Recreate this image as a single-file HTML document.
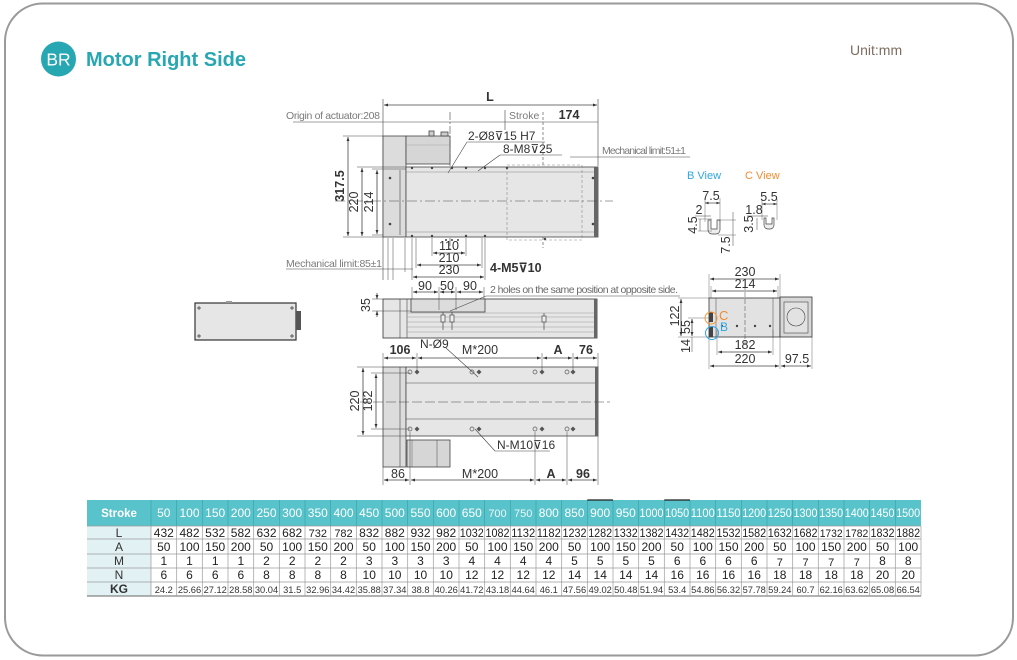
<!DOCTYPE html>
<html><head><meta charset="utf-8"><style>
html,body{margin:0;padding:0;background:#fff;}
svg{display:block;font-family:"Liberation Sans",sans-serif;}
</style></head><body>
<svg width="1017" height="660" viewBox="0 0 1017 660" xmlns="http://www.w3.org/2000/svg">
<defs>
<marker id="a" viewBox="0 0 6 6" refX="6" refY="3" markerWidth="5" markerHeight="5" orient="auto-start-reverse"><path d="M0,0.8 L6,3 L0,5.2z" fill="#333"/></marker>
</defs>
<rect x="5" y="3.5" width="1008" height="652" rx="38" ry="38" fill="#fff" stroke="#9a9a9a" stroke-width="2"/>
<circle cx="58.5" cy="59" r="17.5" fill="#27a7b2"/>
<text x="58.5" y="65.5" font-size="17.5" fill="#fff" text-anchor="middle">BR</text>
<text x="86" y="66" font-size="20" font-weight="bold" fill="#27a7b2">Motor Right Side</text>
<text x="850" y="55" font-size="14" fill="#7d6e60">Unit:mm</text>

<g stroke="#444" stroke-width="0.8" fill="none">
<line x1="383" y1="99" x2="383" y2="280" stroke-width="0.6"/>
<line x1="598" y1="99" x2="598" y2="166" stroke-width="0.6"/>
<line x1="388" y1="238" x2="388" y2="280" stroke-width="0.5"/>
<line x1="393" y1="238" x2="393" y2="280" stroke-width="0.5"/>
<line x1="405" y1="238" x2="405" y2="272" stroke-width="0.5"/>
<line x1="412" y1="238" x2="412" y2="280" stroke-width="0.5"/>
<line x1="416" y1="238" x2="416" y2="268" stroke-width="0.5"/>
<line x1="432" y1="238" x2="432" y2="256" stroke-width="0.5"/>
<line x1="466" y1="238" x2="466" y2="256" stroke-width="0.5"/>
<line x1="482" y1="238" x2="482" y2="268" stroke-width="0.5"/>
<line x1="485" y1="238" x2="485" y2="280" stroke-width="0.5"/>
<line x1="384" y1="105" x2="597" y2="105" marker-start="url(#a)" marker-end="url(#a)"/>
<line x1="293" y1="122" x2="598" y2="122" stroke-width="0.6"/>
<line x1="450" y1="112" x2="450" y2="252" stroke-dasharray="8,2,2,2" stroke-width="0.6"/>
<line x1="543" y1="112" x2="543" y2="248" stroke-dasharray="3,2" stroke-width="0.6"/>
<line x1="505" y1="110" x2="505" y2="130" stroke-width="0.6"/>
<rect x="383" y="136" width="23" height="101" fill="#dcdcdc" stroke="#444"/>
<rect x="406" y="136" width="44" height="28" fill="#d6d6d6" stroke="#444"/>
<rect x="429" y="131" width="5" height="5" fill="#ccc"/>
<rect x="441" y="132" width="7" height="4" fill="#ccc"/>
<line x1="406" y1="145" x2="450" y2="145" stroke="#999" stroke-width="0.4"/>
<rect x="406" y="167" width="192" height="70" fill="#e6e6e6" stroke="#444"/>
<line x1="400" y1="170" x2="400" y2="235" stroke-width="0.6"/>
<line x1="406" y1="172" x2="594" y2="172" stroke="#888" stroke-width="0.5"/>
<line x1="406" y1="232" x2="594" y2="232" stroke="#888" stroke-width="0.5"/>
<rect x="594" y="167" width="4" height="70" fill="#666" stroke="none"/>
<rect x="507" y="165" width="75" height="75" stroke="#888" stroke-dasharray="3,2" stroke-width="0.6"/>
<line x1="335" y1="201" x2="613" y2="201" stroke-dasharray="10,3,2,3" stroke-width="0.6"/>
<line x1="343" y1="136" x2="383" y2="136" stroke-width="0.5"/>
<line x1="343" y1="237" x2="383" y2="237" stroke-width="0.5"/>
<line x1="357" y1="167" x2="406" y2="167" stroke-width="0.5"/>
<line x1="372" y1="169" x2="406" y2="169" stroke-width="0.5"/>
<line x1="372" y1="235" x2="383" y2="235" stroke-width="0.5"/>
<line x1="348" y1="137" x2="348" y2="236" marker-start="url(#a)" marker-end="url(#a)"/>
<line x1="362" y1="168" x2="362" y2="236" marker-start="url(#a)" marker-end="url(#a)"/>
<line x1="377" y1="170" x2="377" y2="234" marker-start="url(#a)" marker-end="url(#a)"/>
<line x1="433" y1="253" x2="465" y2="253" marker-start="url(#a)" marker-end="url(#a)"/>
<line x1="417" y1="265" x2="481" y2="265" marker-start="url(#a)" marker-end="url(#a)"/>
<line x1="413" y1="277" x2="484" y2="277" marker-start="url(#a)" marker-end="url(#a)"/>
<line x1="286" y1="269" x2="413" y2="269" stroke-width="0.6"/>
<line x1="467" y1="142" x2="545" y2="142" stroke-width="0.6"/>
<line x1="467" y1="142" x2="448" y2="173" stroke-width="0.6"/>
<line x1="500" y1="155" x2="562" y2="155" stroke-width="0.6"/>
<line x1="500" y1="155" x2="478" y2="171" stroke-width="0.6"/>
<line x1="570" y1="157" x2="690" y2="157" stroke-width="0.6"/>
</g>
<g fill="#444">
<circle cx="390" cy="178" r="1.3"/><circle cx="390" cy="224" r="1.3"/>
<circle cx="593" cy="178" r="1.3"/><circle cx="593" cy="224" r="1.3"/>
<circle cx="412" cy="168" r="1.2"/><circle cx="432" cy="168" r="1.2"/><circle cx="452" cy="168" r="1.2"/><circle cx="466" cy="168" r="1.2"/><circle cx="485" cy="168" r="1.2"/><circle cx="507" cy="168" r="1.2"/>
<circle cx="412" cy="236" r="1.2"/><circle cx="432" cy="236" r="1.2"/><circle cx="446" cy="240" r="1"/><circle cx="452" cy="240" r="1"/><circle cx="458" cy="240" r="1"/><circle cx="466" cy="236" r="1.2"/><circle cx="485" cy="236" r="1.2"/><circle cx="545" cy="239" r="1.2"/>
</g>
<g font-size="12.5" fill="#333" text-anchor="middle">
<text x="490" y="101" font-weight="bold">L</text>
<text x="569" y="119" font-weight="bold">174</text>
<text x="449" y="250">110</text>
<text x="449" y="262">210</text>
<text x="449" y="274">230</text>
<text transform="translate(344,186) rotate(-90)" font-weight="bold">317.5</text>
<text transform="translate(358,202) rotate(-90)">220</text>
<text transform="translate(373,202) rotate(-90)">214</text>
</g>
<g font-size="10.5" fill="#7a7a7a">
<text x="286" y="119" textLength="94">Origin of actuator:208</text>
<text x="509" y="119">Stroke</text>
<text x="286" y="267" textLength="96">Mechanical limit:85±1</text>
<text x="602" y="154" textLength="84">Mechanical limit:51±1</text>
</g>
<g font-size="12" fill="#333">
<text x="468" y="140">2-Ø8⊽15 H7</text>
<text x="503" y="153">8-M8⊽25</text>
<text x="490" y="272" font-size="12.5" font-weight="bold">4-M5⊽10</text>
</g>

<g stroke="#333" fill="none">
<rect x="195" y="303" width="101" height="37" fill="#e6e6e6" stroke-width="1.2"/>
<rect x="296" y="311" width="5" height="19" fill="#555" stroke="none"/>
<rect x="226" y="301" width="6" height="2" fill="#999" stroke="none"/>
<g stroke-width="0.7"><path d="M197,308h4M199,306v4M290,308h4M292,306v4M197,336h4M199,334v4M290,336h4M292,334v4"/></g>
</g>

<g stroke="#444" stroke-width="0.8" fill="none">
<rect x="383" y="299" width="214" height="39" fill="#e6e6e6" stroke="#333"/>
<line x1="400" y1="299" x2="400" y2="338" stroke-width="0.6"/>
<line x1="407" y1="299" x2="407" y2="338" stroke-width="0.6"/>
<rect x="411" y="299" width="74" height="13" fill="#dcdcdc"/>
<g stroke="#999" stroke-width="0.5">
<line x1="407" y1="313" x2="594" y2="313"/><line x1="407" y1="317" x2="594" y2="317"/>
<line x1="407" y1="322" x2="594" y2="322"/><line x1="407" y1="327" x2="594" y2="327"/>
<line x1="407" y1="332" x2="594" y2="332"/></g>
<rect x="594" y="299" width="3" height="39" fill="#666" stroke="none"/>
<g stroke-width="0.7"><line x1="443" y1="312" x2="443" y2="330"/><line x1="452" y1="312" x2="452" y2="330"/><line x1="544" y1="313" x2="544" y2="330"/>
<rect x="441" y="315" width="4" height="7" fill="#eee"/><rect x="450" y="315" width="4" height="7" fill="#eee"/><rect x="542" y="316" width="4" height="6" fill="#eee"/></g>
<line x1="372" y1="299" x2="383" y2="299" stroke-width="0.5"/>
<line x1="372" y1="311" x2="411" y2="311" stroke-width="0.5"/>
<line x1="377" y1="293" x2="377" y2="299" marker-end="url(#a)"/>
<line x1="377" y1="317" x2="377" y2="311" marker-end="url(#a)"/>
<line x1="412" y1="287" x2="412" y2="299" stroke-width="0.5"/><line x1="439" y1="287" x2="439" y2="310" stroke-width="0.5"/>
<line x1="456" y1="287" x2="456" y2="310" stroke-width="0.5"/><line x1="484" y1="287" x2="484" y2="299" stroke-width="0.5"/>
<line x1="413" y1="292" x2="438" y2="292" marker-start="url(#a)" marker-end="url(#a)"/>
<line x1="440" y1="292" x2="455" y2="292" marker-start="url(#a)" marker-end="url(#a)"/>
<line x1="457" y1="292" x2="483" y2="292" marker-start="url(#a)" marker-end="url(#a)"/>
<line x1="486" y1="296" x2="680" y2="296" stroke-width="0.6"/>
<line x1="486" y1="296" x2="450" y2="311" stroke-width="0.6"/>
</g>
<g font-size="12.5" fill="#333" text-anchor="middle">
<text x="425" y="290">90</text><text x="447" y="290">50</text><text x="470" y="290">90</text>
<text transform="translate(370,305) rotate(-90)">35</text>
</g>
<text x="490" y="293" font-size="10.5" fill="#6a6a6a" textLength="188">2 holes on the same position at opposite side.</text>

<g stroke="#444" stroke-width="0.8" fill="none">
<rect x="383" y="367" width="23" height="100" fill="#dcdcdc"/>
<line x1="400" y1="367" x2="400" y2="467" stroke-width="0.6"/>
<rect x="406" y="367" width="192" height="69" fill="#e6e6e6"/>
<rect x="595" y="367" width="3" height="69" fill="#666" stroke="none"/>
<line x1="406" y1="383" x2="595" y2="383" stroke-width="0.6"/>
<line x1="406" y1="419" x2="595" y2="419" stroke-width="0.6"/>
<rect x="407" y="440" width="43" height="27" fill="#d6d6d6"/>
<line x1="437" y1="440" x2="437" y2="467" stroke-width="0.5"/>
<line x1="412" y1="440" x2="412" y2="467" stroke-width="0.4"/>
<line x1="360" y1="402" x2="610" y2="402" stroke-dasharray="10,3" stroke-width="0.6"/>
<line x1="357" y1="367" x2="383" y2="367" stroke-width="0.5"/><line x1="357" y1="436" x2="406" y2="436" stroke-width="0.5"/>
<line x1="371" y1="373" x2="410" y2="373" stroke-width="0.5"/><line x1="371" y1="429" x2="410" y2="429" stroke-width="0.5"/>
<line x1="363" y1="368" x2="363" y2="435" marker-start="url(#a)" marker-end="url(#a)"/>
<line x1="376" y1="374" x2="376" y2="428" marker-start="url(#a)" marker-end="url(#a)"/>
<line x1="383" y1="353" x2="383" y2="367" stroke-width="0.5"/><line x1="417" y1="353" x2="417" y2="372" stroke-width="0.5"/>
<line x1="542" y1="353" x2="542" y2="372" stroke-width="0.5"/><line x1="573" y1="353" x2="573" y2="372" stroke-width="0.5"/>
<line x1="598" y1="353" x2="598" y2="367" stroke-width="0.5"/>
<line x1="384" y1="358" x2="416" y2="358" marker-start="url(#a)" marker-end="url(#a)"/>
<line x1="418" y1="358" x2="541" y2="358" marker-start="url(#a)" marker-end="url(#a)"/>
<line x1="543" y1="358" x2="572" y2="358" marker-start="url(#a)" marker-end="url(#a)"/>
<line x1="574" y1="358" x2="597" y2="358" marker-start="url(#a)" marker-end="url(#a)"/>
<line x1="383" y1="467" x2="383" y2="485" stroke-width="0.5"/><line x1="410" y1="432" x2="410" y2="485" stroke-width="0.5"/>
<line x1="535" y1="432" x2="535" y2="485" stroke-width="0.5"/><line x1="567" y1="432" x2="567" y2="485" stroke-width="0.5"/>
<line x1="598" y1="436" x2="598" y2="485" stroke-width="0.5"/>
<line x1="384" y1="480" x2="409" y2="480" marker-start="url(#a)" marker-end="url(#a)"/>
<line x1="411" y1="480" x2="534" y2="480" marker-start="url(#a)" marker-end="url(#a)"/>
<line x1="536" y1="480" x2="566" y2="480" marker-start="url(#a)" marker-end="url(#a)"/>
<line x1="568" y1="480" x2="597" y2="480" marker-start="url(#a)" marker-end="url(#a)"/>
<line x1="446" y1="348" x2="478" y2="377" stroke-width="0.6"/>
<line x1="495" y1="451" x2="550" y2="451" stroke-width="0.6"/>
<line x1="495" y1="451" x2="475" y2="429" stroke-width="0.6"/>
</g>
<g fill="none" stroke="#555" stroke-width="0.7">
<circle cx="410" cy="372" r="2"/><circle cx="472" cy="372" r="2"/><circle cx="535" cy="372" r="2"/><circle cx="567" cy="372" r="2"/>
<circle cx="410" cy="429" r="2"/><circle cx="472" cy="429" r="2"/><circle cx="535" cy="429" r="2"/><circle cx="567" cy="429" r="2"/>
</g>
<g fill="#555">
<path d="M417,369.5l2.5,2.5l-2.5,2.5l-2.5,-2.5z"/><path d="M479,369.5l2.5,2.5l-2.5,2.5l-2.5,-2.5z"/><path d="M542,369.5l2.5,2.5l-2.5,2.5l-2.5,-2.5z"/><path d="M573,369.5l2.5,2.5l-2.5,2.5l-2.5,-2.5z"/>
<path d="M417,426.5l2.5,2.5l-2.5,2.5l-2.5,-2.5z"/><path d="M479,426.5l2.5,2.5l-2.5,2.5l-2.5,-2.5z"/><path d="M542,426.5l2.5,2.5l-2.5,2.5l-2.5,-2.5z"/><path d="M573,426.5l2.5,2.5l-2.5,2.5l-2.5,-2.5z"/>
</g>
<g font-size="12.5" fill="#333" text-anchor="middle">
<text x="400" y="354" font-weight="bold">106</text>
<text x="480" y="354">M*200</text>
<text x="558" y="354" font-weight="bold">A</text>
<text x="586" y="354" font-weight="bold">76</text>
<text x="398" y="478">86</text>
<text x="480" y="478">M*200</text>
<text x="551" y="478" font-weight="bold">A</text>
<text x="583" y="478" font-weight="bold">96</text>
<text transform="translate(359,401) rotate(-90)">220</text>
<text transform="translate(372,401) rotate(-90)">182</text>
</g>
<text x="420" y="348" font-size="12" fill="#333">N-Ø9</text>
<text x="497" y="449" font-size="12" fill="#333">N-M10⊽16</text>

<text x="687" y="179" font-size="11" fill="#2ea7e0">B View</text>
<text x="745" y="179" font-size="11" fill="#f08d33">C View</text>
<g stroke="#444" stroke-width="0.7" fill="none">
<path d="M708,220 v10 a4,4 0 0 0 4,4 h4 a4,4 0 0 0 4,-4 v-10 h-3 v9 h-6 v-9z" fill="#eee"/>
<line x1="705" y1="203" x2="720" y2="203" marker-start="url(#a)" marker-end="url(#a)"/>
<line x1="705" y1="198" x2="705" y2="222" stroke-width="0.4"/><line x1="720" y1="198" x2="720" y2="222" stroke-width="0.4"/>
<line x1="695" y1="216" x2="711" y2="216" stroke-width="0.5"/>
<line x1="700" y1="219" x2="700" y2="231" stroke-width="0.5"/>
<line x1="698" y1="219" x2="712" y2="219" stroke-width="0.4"/><line x1="698" y1="231" x2="712" y2="231" stroke-width="0.4"/>
<line x1="733" y1="212" x2="733" y2="246" stroke-width="0.5"/>
<line x1="718" y1="220" x2="736" y2="220" stroke-width="0.4"/><line x1="718" y1="235" x2="736" y2="235" stroke-width="0.4"/>
<path d="M764,218 v7 a4,4 0 0 0 4,4 h2 a4,4 0 0 0 4,-4 v-7 h-2 v6 h-6 v-6z" fill="#eee"/>
<line x1="762" y1="204" x2="777" y2="204" marker-start="url(#a)" marker-end="url(#a)"/>
<line x1="762" y1="199" x2="762" y2="220" stroke-width="0.4"/><line x1="777" y1="199" x2="777" y2="220" stroke-width="0.4"/>
<line x1="747" y1="216" x2="768" y2="216" stroke-width="0.5"/>
<line x1="757" y1="218" x2="757" y2="230" stroke-width="0.5"/>
</g>
<g font-size="12.5" fill="#333" text-anchor="middle">
<text x="711" y="200">7.5</text>
<text x="699" y="214">2</text>
<text transform="translate(697,225) rotate(-90)">4.5</text>
<text transform="translate(730,245) rotate(-90)">7.5</text>
<text x="769" y="201">5.5</text>
<text x="754" y="214">1.8</text>
<text transform="translate(753,224) rotate(-90)">3.5</text>
</g>

<g stroke="#444" stroke-width="0.8" fill="none">
<rect x="709" y="298" width="71" height="39" fill="#e2e2e2" stroke="#333"/>
<line x1="716" y1="298" x2="716" y2="337" stroke-width="0.5"/>
<line x1="773" y1="298" x2="773" y2="337" stroke-width="0.5"/>
<line x1="745" y1="285" x2="745" y2="345" stroke-dasharray="5,2" stroke-width="0.5"/>
<rect x="780" y="297" width="32" height="40" fill="#d8d8d8" stroke="#333"/>
<rect x="784" y="302" width="24" height="31" fill="#e2e2e2" stroke-width="0.6"/>
<circle cx="796" cy="317" r="9" stroke-width="0.6"/>
<line x1="709" y1="274" x2="709" y2="298" stroke-width="0.4"/><line x1="780" y1="274" x2="780" y2="298" stroke-width="0.4"/>
<line x1="710" y1="279" x2="779" y2="279" marker-start="url(#a)" marker-end="url(#a)"/>
<line x1="712" y1="291" x2="777" y2="291" marker-start="url(#a)" marker-end="url(#a)"/>
<line x1="711" y1="286" x2="711" y2="298" stroke-width="0.4"/><line x1="778" y1="286" x2="778" y2="298" stroke-width="0.4"/>
<line x1="717" y1="330" x2="717" y2="355" stroke-width="0.4"/><line x1="773" y1="330" x2="773" y2="355" stroke-width="0.4"/>
<line x1="718" y1="352" x2="772" y2="352" marker-start="url(#a)" marker-end="url(#a)"/>
<line x1="709" y1="337" x2="709" y2="369" stroke-width="0.4"/><line x1="780" y1="337" x2="780" y2="369" stroke-width="0.4"/><line x1="812" y1="337" x2="812" y2="369" stroke-width="0.4"/>
<line x1="710" y1="366" x2="779" y2="366" marker-start="url(#a)" marker-end="url(#a)"/>
<line x1="781" y1="366" x2="811" y2="366" marker-start="url(#a)" marker-end="url(#a)"/>
<line x1="678" y1="298" x2="709" y2="298" stroke-width="0.4"/><line x1="678" y1="337" x2="709" y2="337" stroke-width="0.4"/>
<line x1="681" y1="299" x2="681" y2="336" marker-start="url(#a)" marker-end="url(#a)"/>
<line x1="688" y1="318" x2="709" y2="318" stroke-width="0.4"/>
<line x1="692" y1="319" x2="692" y2="336" marker-start="url(#a)" marker-end="url(#a)"/>
<line x1="692" y1="337" x2="692" y2="352" stroke-width="0.5"/>
</g>
<g fill="#444">
<circle cx="722" cy="326" r="1.2"/><circle cx="737" cy="326" r="1.2"/><circle cx="755" cy="326" r="1.2"/><circle cx="770" cy="326" r="1.2"/>
<rect x="709" y="312" width="4" height="10"/><rect x="709" y="327" width="4" height="10"/>
</g>
<circle cx="711" cy="318" r="6" fill="none" stroke="#f39a3b" stroke-width="1"/>
<circle cx="712" cy="333" r="6.5" fill="none" stroke="#2ea7e0" stroke-width="1"/>
<text x="719" y="320" font-size="13" fill="#f08d33">C</text>
<text x="720" y="331" font-size="12" fill="#2ea7e0">B</text>
<g font-size="12.5" fill="#333" text-anchor="middle">
<text x="745" y="276">230</text>
<text x="745" y="288">214</text>
<text x="745" y="349">182</text>
<text x="745" y="363">220</text>
<text x="797" y="363">97.5</text>
<text transform="translate(679,316) rotate(-90)">122</text>
<text transform="translate(690,327) rotate(-90)">55</text>
<text transform="translate(690,346) rotate(-90)">14</text>
</g>

<g>
<rect x="87" y="500" width="834" height="26" fill="#58c3ca"/>
<rect x="87" y="526" width="64" height="70" fill="#e2f1f3"/>
<g stroke="#3a9ea5" stroke-width="0.6">
<line x1="151" y1="500" x2="151" y2="526"/><line x1="176.7" y1="500" x2="176.7" y2="526"/><line x1="202.3" y1="500" x2="202.3" y2="526"/><line x1="228" y1="500" x2="228" y2="526"/><line x1="253.7" y1="500" x2="253.7" y2="526"/><line x1="279.3" y1="500" x2="279.3" y2="526"/><line x1="305" y1="500" x2="305" y2="526"/><line x1="330.7" y1="500" x2="330.7" y2="526"/><line x1="356.3" y1="500" x2="356.3" y2="526"/><line x1="382" y1="500" x2="382" y2="526"/><line x1="407.7" y1="500" x2="407.7" y2="526"/><line x1="433.3" y1="500" x2="433.3" y2="526"/><line x1="459" y1="500" x2="459" y2="526"/><line x1="484.7" y1="500" x2="484.7" y2="526"/><line x1="510.3" y1="500" x2="510.3" y2="526"/><line x1="536" y1="500" x2="536" y2="526"/><line x1="561.7" y1="500" x2="561.7" y2="526"/><line x1="587.3" y1="500" x2="587.3" y2="526"/><line x1="613" y1="500" x2="613" y2="526"/><line x1="638.7" y1="500" x2="638.7" y2="526"/><line x1="664.3" y1="500" x2="664.3" y2="526"/><line x1="690" y1="500" x2="690" y2="526"/><line x1="715.7" y1="500" x2="715.7" y2="526"/><line x1="741.3" y1="500" x2="741.3" y2="526"/><line x1="767" y1="500" x2="767" y2="526"/><line x1="792.7" y1="500" x2="792.7" y2="526"/><line x1="818.3" y1="500" x2="818.3" y2="526"/><line x1="844" y1="500" x2="844" y2="526"/><line x1="869.7" y1="500" x2="869.7" y2="526"/><line x1="895.3" y1="500" x2="895.3" y2="526"/>
</g>
<line x1="587.3" y1="500" x2="613" y2="500" stroke="#222" stroke-width="1.2"/>
<line x1="664.3" y1="500" x2="690" y2="500" stroke="#222" stroke-width="1.2"/>
<g stroke="#9a9a9a" stroke-width="0.7">
<line x1="87" y1="526" x2="921" y2="526"/><line x1="87" y1="539" x2="921" y2="539"/><line x1="87" y1="554" x2="921" y2="554"/><line x1="87" y1="568" x2="921" y2="568"/><line x1="87" y1="582" x2="921" y2="582"/><line x1="87" y1="596" x2="921" y2="596" stroke="#666" stroke-width="1"/>
<line x1="151" y1="526" x2="151" y2="596"/><line x1="176.7" y1="526" x2="176.7" y2="596"/><line x1="202.3" y1="526" x2="202.3" y2="596"/><line x1="228" y1="526" x2="228" y2="596"/><line x1="253.7" y1="526" x2="253.7" y2="596"/><line x1="279.3" y1="526" x2="279.3" y2="596"/><line x1="305" y1="526" x2="305" y2="596"/><line x1="330.7" y1="526" x2="330.7" y2="596"/><line x1="356.3" y1="526" x2="356.3" y2="596"/><line x1="382" y1="526" x2="382" y2="596"/><line x1="407.7" y1="526" x2="407.7" y2="596"/><line x1="433.3" y1="526" x2="433.3" y2="596"/><line x1="459" y1="526" x2="459" y2="596"/><line x1="484.7" y1="526" x2="484.7" y2="596"/><line x1="510.3" y1="526" x2="510.3" y2="596"/><line x1="536" y1="526" x2="536" y2="596"/><line x1="561.7" y1="526" x2="561.7" y2="596"/><line x1="587.3" y1="526" x2="587.3" y2="596"/><line x1="613" y1="526" x2="613" y2="596"/><line x1="638.7" y1="526" x2="638.7" y2="596"/><line x1="664.3" y1="526" x2="664.3" y2="596"/><line x1="690" y1="526" x2="690" y2="596"/><line x1="715.7" y1="526" x2="715.7" y2="596"/><line x1="741.3" y1="526" x2="741.3" y2="596"/><line x1="767" y1="526" x2="767" y2="596"/><line x1="792.7" y1="526" x2="792.7" y2="596"/><line x1="818.3" y1="526" x2="818.3" y2="596"/><line x1="844" y1="526" x2="844" y2="596"/><line x1="869.7" y1="526" x2="869.7" y2="596"/><line x1="895.3" y1="526" x2="895.3" y2="596"/><line x1="921" y1="526" x2="921" y2="596"/>
</g>
<g font-size="12" fill="#333" text-anchor="middle">
<text x="119" y="517" fill="#fff" font-weight="bold" font-size="11.5">Stroke</text>
<text x="119" y="537">L</text><text x="119" y="551">A</text><text x="119" y="565">M</text><text x="119" y="579">N</text><text x="119" y="593" font-weight="bold">KG</text>
</g>
<g font-size="12" fill="#fff" text-anchor="middle">
<text x="163.8" y="517">50</text><text x="189.5" y="517">100</text><text x="215.2" y="517">150</text><text x="240.8" y="517">200</text><text x="266.5" y="517">250</text><text x="292.2" y="517">300</text><text x="317.8" y="517">350</text><text x="343.5" y="517">400</text><text x="369.2" y="517">450</text><text x="394.8" y="517">500</text><text x="420.5" y="517">550</text><text x="446.2" y="517">600</text><text x="471.8" y="517">650</text><text x="497.5" y="517" fill="#eef8f9" font-size="11">700</text><text x="523.2" y="517" fill="#eef8f9" font-size="11">750</text><text x="548.8" y="517">800</text><text x="574.5" y="517">850</text><text x="600.2" y="517">900</text><text x="625.8" y="517">950</text>
<text x="651.5" y="517" textLength="24" lengthAdjust="spacingAndGlyphs">1000</text><text x="677.2" y="517" textLength="24" lengthAdjust="spacingAndGlyphs">1050</text><text x="702.8" y="517" textLength="24" lengthAdjust="spacingAndGlyphs">1100</text><text x="728.5" y="517" textLength="24" lengthAdjust="spacingAndGlyphs">1150</text><text x="754.2" y="517" textLength="24" lengthAdjust="spacingAndGlyphs">1200</text><text x="779.8" y="517" textLength="24" lengthAdjust="spacingAndGlyphs">1250</text><text x="805.5" y="517" textLength="24" lengthAdjust="spacingAndGlyphs">1300</text><text x="831.2" y="517" textLength="24" lengthAdjust="spacingAndGlyphs">1350</text><text x="856.8" y="517" textLength="24" lengthAdjust="spacingAndGlyphs">1400</text><text x="882.5" y="517" textLength="24" lengthAdjust="spacingAndGlyphs">1450</text><text x="908.2" y="517" textLength="24" lengthAdjust="spacingAndGlyphs">1500</text>
</g>
<g font-size="12" fill="#222" text-anchor="middle">
<text x="163.8" y="537">432</text><text x="189.5" y="537">482</text><text x="215.2" y="537">532</text><text x="240.8" y="537">582</text><text x="266.5" y="537">632</text><text x="292.2" y="537">682</text><text x="317.8" y="537" font-size="11">732</text><text x="343.5" y="537" font-size="11">782</text><text x="369.2" y="537">832</text><text x="394.8" y="537">882</text><text x="420.5" y="537">932</text><text x="446.2" y="537">982</text>
<text x="471.8" y="537" textLength="24" lengthAdjust="spacingAndGlyphs">1032</text><text x="497.5" y="537" textLength="24" lengthAdjust="spacingAndGlyphs">1082</text><text x="523.2" y="537" textLength="24" lengthAdjust="spacingAndGlyphs">1132</text><text x="548.8" y="537" textLength="24" lengthAdjust="spacingAndGlyphs">1182</text><text x="574.5" y="537" textLength="24" lengthAdjust="spacingAndGlyphs">1232</text><text x="600.2" y="537" textLength="24" lengthAdjust="spacingAndGlyphs">1282</text><text x="625.8" y="537" textLength="24" lengthAdjust="spacingAndGlyphs">1332</text><text x="651.5" y="537" textLength="24" lengthAdjust="spacingAndGlyphs">1382</text><text x="677.2" y="537" textLength="24" lengthAdjust="spacingAndGlyphs">1432</text><text x="702.8" y="537" textLength="24" lengthAdjust="spacingAndGlyphs">1482</text><text x="728.5" y="537" textLength="24" lengthAdjust="spacingAndGlyphs">1532</text><text x="754.2" y="537" textLength="24" lengthAdjust="spacingAndGlyphs">1582</text><text x="779.8" y="537" textLength="24" lengthAdjust="spacingAndGlyphs">1632</text><text x="805.5" y="537" textLength="24" lengthAdjust="spacingAndGlyphs">1682</text><text x="831.2" y="537" textLength="23" lengthAdjust="spacingAndGlyphs" font-size="11">1732</text><text x="856.8" y="537" textLength="23" lengthAdjust="spacingAndGlyphs" font-size="11">1782</text><text x="882.5" y="537" textLength="24" lengthAdjust="spacingAndGlyphs">1832</text><text x="908.2" y="537" textLength="24" lengthAdjust="spacingAndGlyphs">1882</text>
</g>
<g font-size="12" fill="#222" text-anchor="middle">
<text x="163.8" y="551">50</text><text x="189.5" y="551">100</text><text x="215.2" y="551">150</text><text x="240.8" y="551">200</text><text x="266.5" y="551">50</text><text x="292.2" y="551">100</text><text x="317.8" y="551">150</text><text x="343.5" y="551">200</text><text x="369.2" y="551">50</text><text x="394.8" y="551">100</text><text x="420.5" y="551">150</text><text x="446.2" y="551">200</text><text x="471.8" y="551">50</text><text x="497.5" y="551">100</text><text x="523.2" y="551">150</text><text x="548.8" y="551">200</text><text x="574.5" y="551">50</text><text x="600.2" y="551">100</text><text x="625.8" y="551">150</text><text x="651.5" y="551">200</text><text x="677.2" y="551">50</text><text x="702.8" y="551">100</text><text x="728.5" y="551">150</text><text x="754.2" y="551">200</text><text x="779.8" y="551">50</text><text x="805.5" y="551">100</text><text x="831.2" y="551">150</text><text x="856.8" y="551">200</text><text x="882.5" y="551">50</text><text x="908.2" y="551">100</text>
</g>
<g font-size="12" fill="#222" text-anchor="middle">
<text x="163.8" y="565">1</text><text x="189.5" y="565">1</text><text x="215.2" y="565">1</text><text x="240.8" y="565">1</text><text x="266.5" y="565">2</text><text x="292.2" y="565">2</text><text x="317.8" y="565">2</text><text x="343.5" y="565">2</text><text x="369.2" y="565">3</text><text x="394.8" y="565">3</text><text x="420.5" y="565">3</text><text x="446.2" y="565">3</text><text x="471.8" y="565">4</text><text x="497.5" y="565">4</text><text x="523.2" y="565">4</text><text x="548.8" y="565">4</text><text x="574.5" y="565">5</text><text x="600.2" y="565">5</text><text x="625.8" y="565">5</text><text x="651.5" y="565">5</text><text x="677.2" y="565">6</text><text x="702.8" y="565">6</text><text x="728.5" y="565">6</text><text x="754.2" y="565">6</text><text x="779.8" y="566" font-size="11">7</text><text x="805.5" y="566" font-size="11">7</text><text x="831.2" y="566" font-size="11">7</text><text x="856.8" y="566" font-size="11">7</text><text x="882.5" y="565">8</text><text x="908.2" y="565">8</text>
</g>
<g font-size="12" fill="#222" text-anchor="middle">
<text x="163.8" y="579">6</text><text x="189.5" y="579">6</text><text x="215.2" y="579">6</text><text x="240.8" y="579">6</text><text x="266.5" y="579">8</text><text x="292.2" y="579">8</text><text x="317.8" y="579">8</text><text x="343.5" y="579">8</text><text x="369.2" y="579">10</text><text x="394.8" y="579">10</text><text x="420.5" y="579">10</text><text x="446.2" y="579">10</text><text x="471.8" y="579">12</text><text x="497.5" y="579">12</text><text x="523.2" y="579">12</text><text x="548.8" y="579">12</text><text x="574.5" y="579">14</text><text x="600.2" y="579">14</text><text x="625.8" y="579">14</text><text x="651.5" y="579">14</text><text x="677.2" y="579">16</text><text x="702.8" y="579">16</text><text x="728.5" y="579">16</text><text x="754.2" y="579">16</text><text x="779.8" y="579">18</text><text x="805.5" y="579">18</text><text x="831.2" y="579">18</text><text x="856.8" y="579">18</text><text x="882.5" y="579">20</text><text x="908.2" y="579">20</text>
</g>
<g font-size="9.3" fill="#333" text-anchor="middle">
<text x="163.8" y="593">24.2</text><text x="189.5" y="593">25.66</text><text x="215.2" y="593">27.12</text><text x="240.8" y="593">28.58</text><text x="266.5" y="593">30.04</text><text x="292.2" y="593">31.5</text><text x="317.8" y="593">32.96</text><text x="343.5" y="593">34.42</text><text x="369.2" y="593">35.88</text><text x="394.8" y="593">37.34</text><text x="420.5" y="593">38.8</text><text x="446.2" y="593">40.26</text><text x="471.8" y="593">41.72</text><text x="497.5" y="593">43.18</text><text x="523.2" y="593">44.64</text><text x="548.8" y="593">46.1</text><text x="574.5" y="593">47.56</text><text x="600.2" y="593">49.02</text><text x="625.8" y="593">50.48</text><text x="651.5" y="593">51.94</text><text x="677.2" y="593">53.4</text><text x="702.8" y="593">54.86</text><text x="728.5" y="593">56.32</text><text x="754.2" y="593">57.78</text><text x="779.8" y="593">59.24</text><text x="805.5" y="593">60.7</text><text x="831.2" y="593">62.16</text><text x="856.8" y="593">63.62</text><text x="882.5" y="593">65.08</text><text x="908.2" y="593">66.54</text>
</g>
</g>
</svg>
</body></html>
